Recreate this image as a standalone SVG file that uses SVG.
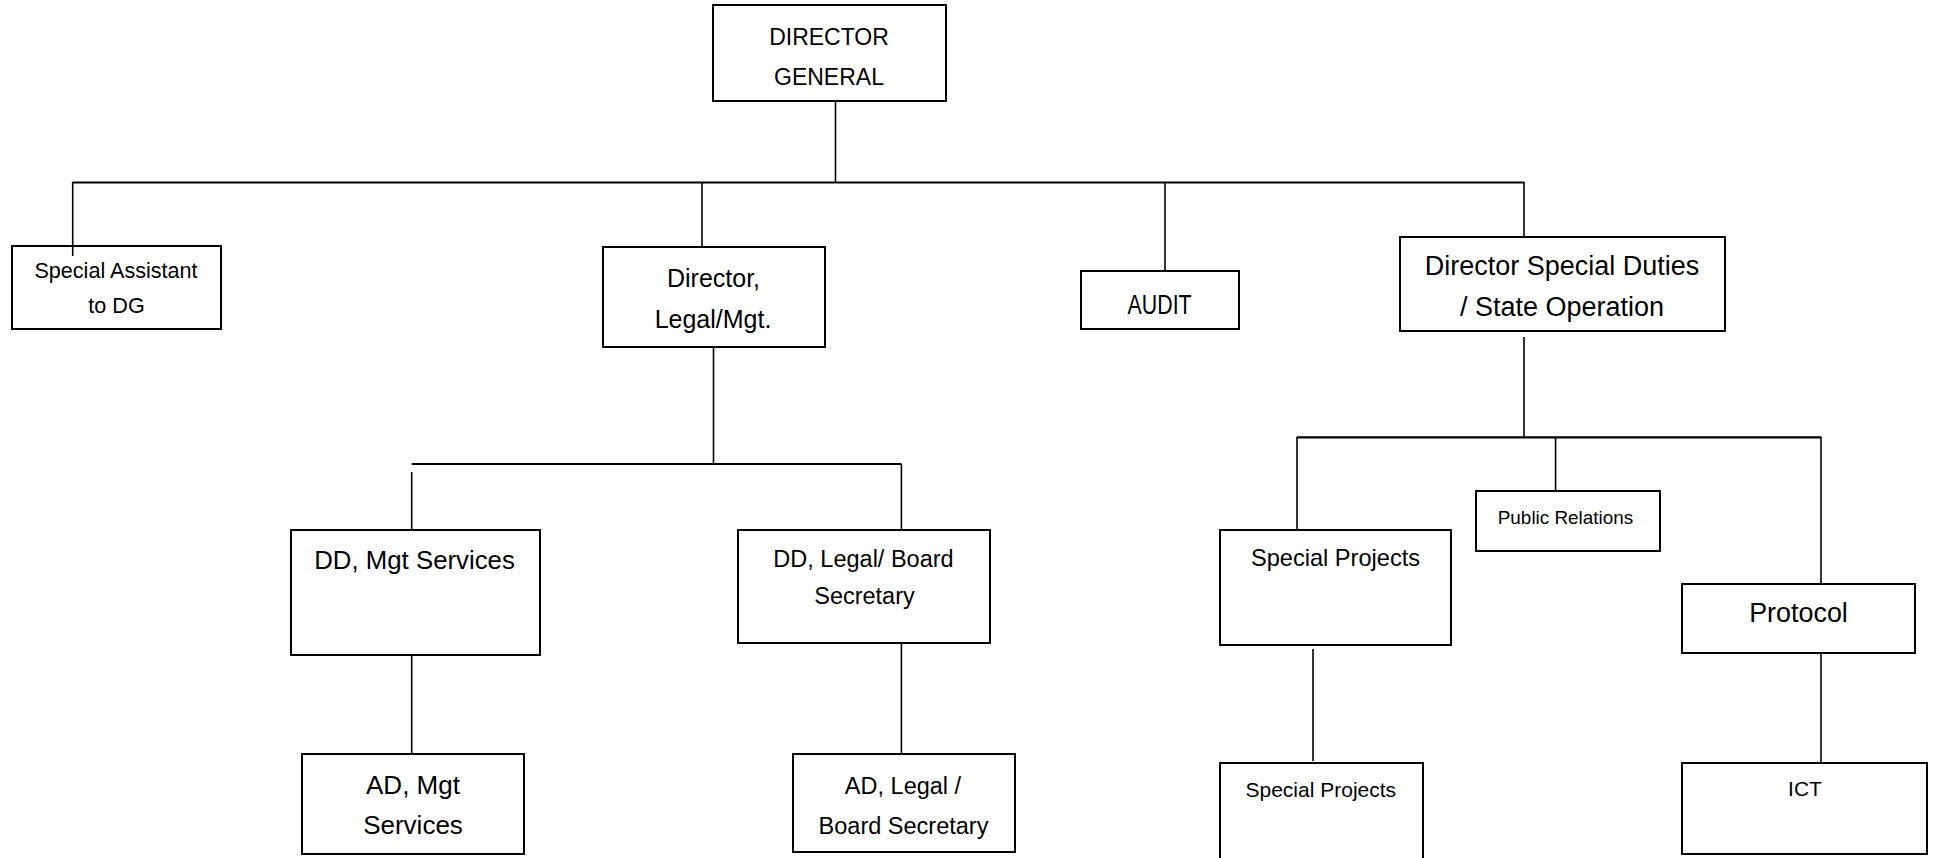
<svg xmlns="http://www.w3.org/2000/svg" width="1933" height="858" viewBox="0 0 1933 858">
  <style>
    .box { fill: #ffffff; stroke: #000000; stroke-width: 2; }
    .wire { fill: none; stroke: #000000; stroke-width: 1.6; }
    .bus { fill: none; stroke: #000000; stroke-width: 2.2; }
    text { font-family: "Liberation Sans", Arial, sans-serif; fill: #000000; text-anchor: middle; }
  </style>
  <rect width="1933" height="858" fill="#ffffff"/>

  <!-- reporting lines -->
  <g id="connectors">
    <path class="wire" d="M835.5 101 V182"/>
    <path class="bus" d="M72.7 182.5 H1524"/>
    <path class="wire" d="M72.7 182 V256"/>
    <path class="wire" d="M702 182 V247"/>
    <path class="wire" d="M1165 182 V271"/>
    <path class="wire" d="M1524 182 V237"/>
    <path class="wire" d="M713.5 347 V464"/>
    <path class="bus" d="M411.7 464 H901.4"/>
    <path class="wire" d="M411.7 472 V530"/>
    <path class="wire" d="M901.4 464 V530"/>
    <path class="wire" d="M411.7 655 V754"/>
    <path class="wire" d="M901.4 640 V754"/>
    <path class="wire" d="M1524 337 V437"/>
    <path class="bus" d="M1297 437.3 H1821"/>
    <path class="wire" d="M1297 437 V530"/>
    <path class="wire" d="M1555.6 437 V491"/>
    <path class="wire" d="M1821 437 V584"/>
    <path class="wire" d="M1313 649 V761"/>
    <path class="wire" d="M1821 649 V763"/>
  </g>

  <g id="director-general">
    <rect class="box" x="713" y="5" width="233" height="96"/>
    <text x="829" y="45" font-size="23">DIRECTOR</text>
    <text x="829" y="85" font-size="23">GENERAL</text>
  </g>

  <g id="special-assistant">
    <rect class="box" x="12" y="246" width="209" height="83"/>
    <path class="wire" d="M72.7 246 V256"/>
    <text x="116" y="278" font-size="21.6">Special Assistant</text>
    <text x="116.5" y="313" font-size="21.6">to DG</text>
  </g>

  <g id="director-legal-mgt">
    <rect class="box" x="603" y="247" width="222" height="100"/>
    <text x="713.5" y="287" font-size="25">Director,</text>
    <text x="713" y="328" font-size="25">Legal/Mgt.</text>
  </g>

  <g id="audit">
    <rect class="box" x="1081" y="271" width="158" height="58"/>
    <text x="1159.6" y="314" font-size="27" textLength="64" lengthAdjust="spacingAndGlyphs">AUDIT</text>
  </g>

  <g id="director-special-duties">
    <rect class="box" x="1400" y="237" width="325" height="94"/>
    <text x="1562" y="275" font-size="27">Director Special Duties</text>
    <text x="1562" y="316" font-size="27">/ State Operation</text>
  </g>

  <g id="dd-mgt-services">
    <rect class="box" x="291" y="530" width="249" height="125"/>
    <text x="414.5" y="569" font-size="25.8">DD, Mgt Services</text>
  </g>

  <g id="dd-legal-board">
    <rect class="box" x="738" y="530" width="252" height="113"/>
    <text x="863.5" y="567" font-size="23.5">DD, Legal/ Board</text>
    <text x="864.5" y="604" font-size="23.5">Secretary</text>
  </g>

  <g id="ad-mgt-services">
    <rect class="box" x="302" y="754" width="222" height="100"/>
    <text x="413" y="794" font-size="26">AD, Mgt</text>
    <text x="413" y="834" font-size="26">Services</text>
  </g>

  <g id="ad-legal-board">
    <rect class="box" x="793" y="754" width="222" height="98"/>
    <text x="903" y="794" font-size="23.5">AD, Legal /</text>
    <text x="903.5" y="834" font-size="23.5">Board Secretary</text>
  </g>

  <g id="special-projects">
    <rect class="box" x="1220" y="530" width="231" height="115"/>
    <text x="1335.5" y="566" font-size="23.6">Special Projects</text>
  </g>

  <g id="public-relations">
    <rect class="box" x="1476" y="491" width="184" height="60"/>
    <text x="1565.5" y="524" font-size="18.9">Public Relations</text>
  </g>

  <g id="protocol">
    <rect class="box" x="1682" y="584" width="233" height="69"/>
    <text x="1798.5" y="622" font-size="26.9">Protocol</text>
  </g>

  <g id="special-projects-unit">
    <rect class="box" x="1220" y="763" width="203" height="100"/>
    <text x="1320.8" y="797" font-size="21">Special Projects</text>
  </g>

  <g id="ict">
    <rect class="box" x="1682" y="763" width="245" height="91"/>
    <text x="1805" y="796" font-size="21">ICT</text>
  </g>
</svg>
